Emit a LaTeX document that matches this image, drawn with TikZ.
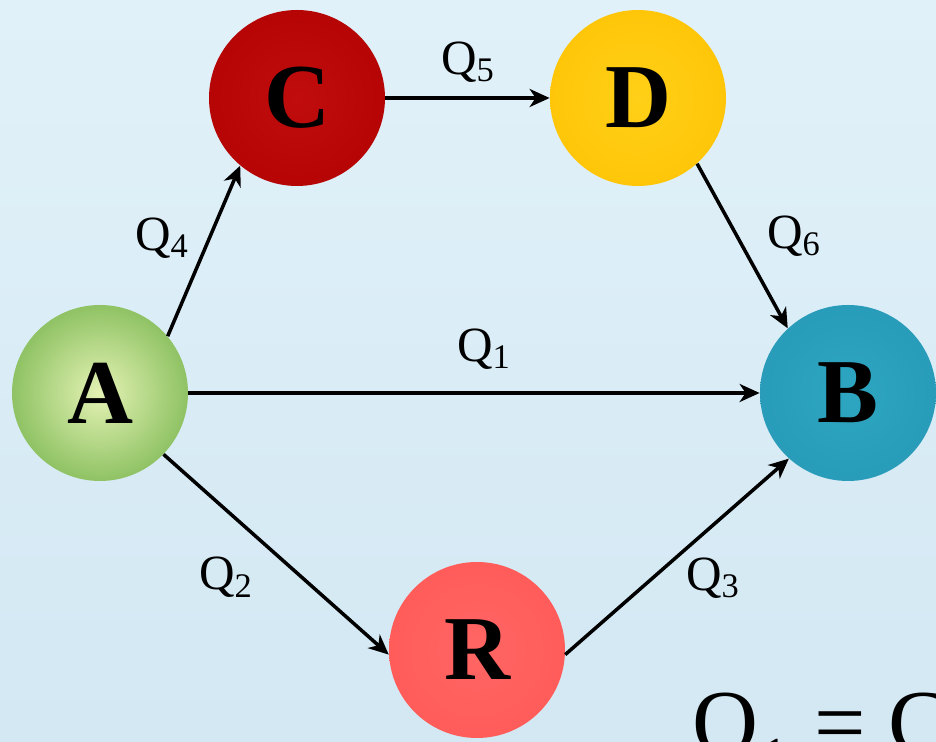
\documentclass[tikz,border=0pt]{standalone}
\usepackage{fontspec}
\setmainfont{Liberation Serif}
\usepackage{xcolor}
\usepackage{tikz}
\usetikzlibrary{arrows.meta, positioning}

\definecolor{bgtop}{RGB}{225,241,249}
\definecolor{bgbot}{RGB}{211,232,243}
\definecolor{orbin}{RGB}{255,255,255}
\definecolor{orbout}{RGB}{0,0,0}
\definecolor{ain}{RGB}{228,242,180}
\definecolor{aout}{RGB}{92,166,52}
\definecolor{cin}{RGB}{192,12,12}
\definecolor{cout}{RGB}{176,0,0}
\definecolor{din}{RGB}{255,208,24}
\definecolor{dout}{RGB}{255,192,0}
\definecolor{bin}{RGB}{46,166,193}
\definecolor{bout}{RGB}{36,150,180}
\definecolor{rin}{RGB}{255,102,100}
\definecolor{rout}{RGB}{255,86,84}

% radial fill for the balls, edge slightly darker
\pgfdeclareradialshading[orbin,orbout]{orb}{\pgfpoint{0bp}{0bp}}{%
  color(0bp)=(orbin); color(40bp)=(orbout); color(50bp)=(orbout!80!black)}

\begin{document}
\begin{tikzpicture}[
    ball/.style 2 args={circle, minimum size=3.52cm, inner sep=0pt,
      font=\fontsize{52}{52}\selectfont\bfseries,
      /utils/exec={\colorlet{orbin}{#1}\colorlet{orbout}{#2}}, shading=orb},
    flow/.style={font=\fontsize{28}{30}\selectfont, inner sep=1pt},
    arrow/.style={-{Stealth[length=0.4cm, width=0.36cm, inset=0.12cm]}, line width=2pt}
]
\useasboundingbox (0,0) rectangle (18.72,14.84);
\fill[top color=bgtop, bottom color=bgbot] (0,0) rectangle (18.72,14.84);

% Nodes
\node[ball={ain}{aout}] at (2.0,6.98) (A) {A};
\node[ball={cin}{cout}] at (5.94,12.88) (C) {C};
\node[ball={din}{dout}] at (12.76,12.88) (D) {D};
\node[ball={bin}{bout}] at (16.96,6.98) (B) {B};
\node[ball={rin}{rout}] at (9.54,1.84) (R) {R};

% Flows
\draw[arrow] (A.east) -- (B.west);
\draw[arrow] (A.316) -- (R.183);
\draw[arrow] (R.357) -- (B.228);
\draw[arrow] (A.40) -- (C.230);
\draw[arrow] (C.east) -- (D.west);
\draw[arrow] (D.312) -- (B.133);

% Flow labels
\node[flow] at (9.68,7.86) (q1) {Q\textsubscript{1}};
\node[flow] at (4.52,3.30) (q2) {Q\textsubscript{2}};
\node[flow] at (14.26,3.28) (q3) {Q\textsubscript{3}};
\node[flow] at (3.24,10.08) (q4) {Q\textsubscript{4}};
\node[flow] at (9.36,13.6) (q5) {Q\textsubscript{5}};
\node[flow] at (15.88,10.12) (q6) {Q\textsubscript{6}};

% Equation, cut by the lower edge as in the original
\node[anchor=base west, inner sep=0pt, font=\fontsize{52}{52}\selectfont] at (13.84,-0.24) (eq) {Q\textsubscript{1} = C};

\end{tikzpicture}
\end{document}
